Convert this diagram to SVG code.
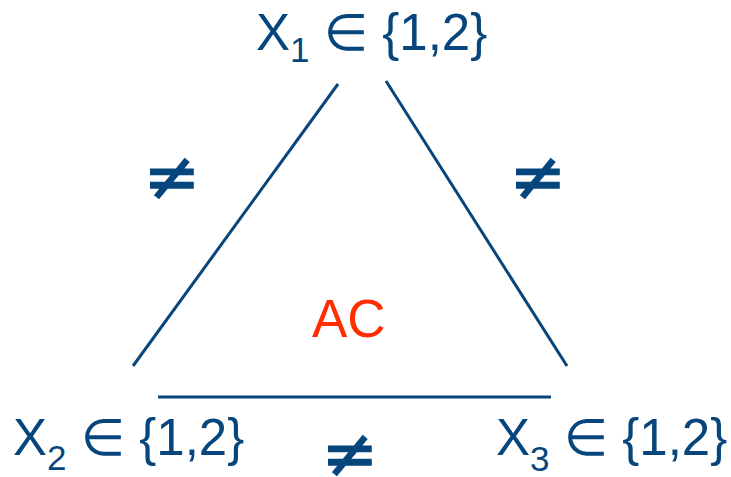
<svg xmlns="http://www.w3.org/2000/svg" width="731" height="477" viewBox="0 0 731 477">
<style>
.t{font-family:"Liberation Sans",Arial,"DejaVu Sans",sans-serif;fill:#06467c}
.m{font-size:51px}
.s{font-size:35px}
.ne{font-family:"DejaVu Sans",sans-serif;font-size:68px;text-anchor:middle;fill:#06467c;stroke:#06467c;stroke-width:1.2}
.e{stroke:#06467c;stroke-width:3;fill:none}
</style>
<rect width="731" height="477" fill="#fff"/>
<g id="connectors">
<line class="e" x1="338" y1="84" x2="133" y2="366"/>
<line class="e" x1="386" y1="81" x2="567" y2="366"/>
<line class="e" x1="158" y1="397" x2="551" y2="397"/>
<text class="ne" x="172" y="200">≠</text>
<text class="ne" x="538" y="200">≠</text>
<text class="ne" x="350" y="477">≠</text>
</g>
<g id="x1"><text class="t m" x="256" y="50">X<tspan class="s" dy="12">1</tspan><tspan dy="-12"> ∈ {1,2}</tspan></text></g>
<g id="x2"><text class="t m" x="13" y="455">X<tspan class="s" dy="15">2</tspan><tspan dy="-15"> ∈ {1,2}</tspan></text></g>
<g id="x3"><text class="t m" x="496" y="455">X<tspan class="s" dy="16">3</tspan><tspan dy="-16"> ∈ {1,2}</tspan></text></g>
<g id="ac"><text x="312" y="337" style="font-family:'Liberation Sans',Arial,sans-serif;font-size:53px;fill:#ff2d00">AC</text></g>
</svg>
